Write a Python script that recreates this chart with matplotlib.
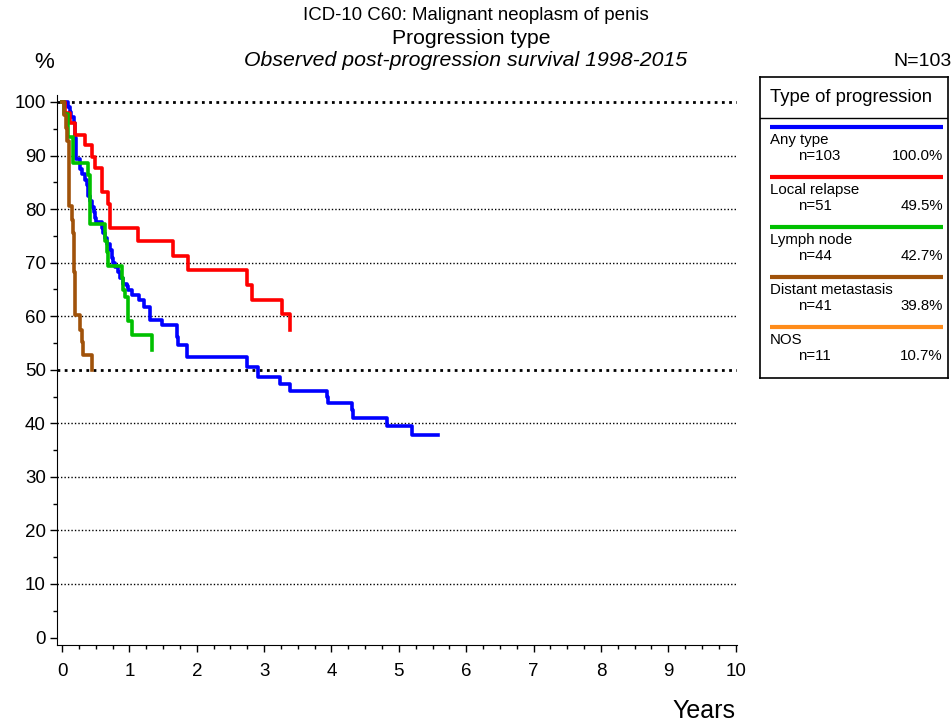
import numpy as np
import matplotlib
matplotlib.use("Agg")
import matplotlib.pyplot as plt
from matplotlib.ticker import MultipleLocator

plt.rcParams['font.family'] = ['Liberation Sans', 'DejaVu Sans']

# step curves: (time in years, survival % after the step)
any_t = [0, 0.09, 0.12, 0.14, 0.17, 0.19, 0.21, 0.27, 0.29, 0.34, 0.37, 0.39, 0.42, 0.44,
         0.47, 0.49, 0.51, 0.59, 0.613, 0.638, 0.663, 0.71, 0.737, 0.76, 0.786, 0.83, 0.861,
         0.91, 0.96, 0.984, 1.034, 1.14, 1.22, 1.306, 1.479, 1.70, 1.726, 1.86, 2.74, 2.91,
         3.234, 3.383, 3.927, 3.95, 4.30, 4.32, 4.82, 5.19, 5.58]
any_s = [100, 99.0, 98.1, 97.1, 96.1, 93.2, 89.3, 87.4, 86.5, 85.5, 84.5, 82.5, 81.5, 80.4,
         79.4, 78.4, 77.5, 76.5, 75.6, 74.6, 73.4, 72.3, 70.9, 70.0, 69.2, 68.2, 67.1,
         66.1, 65.6, 64.9, 64.0, 63.0, 61.8, 59.3, 58.3, 56.2, 54.6, 52.4, 50.6, 48.7,
         47.4, 46.1, 44.9, 43.7, 42.4, 40.9, 39.4, 37.8, 37.8]

local_t = [0, 0.05, 0.12, 0.19, 0.34, 0.44, 0.49, 0.60, 0.687, 0.712, 1.133, 1.652, 1.875,
           2.74, 2.814, 3.259, 3.383]
local_s = [100, 98.0, 96.0, 93.9, 91.9, 89.7, 87.6, 83.2, 80.9, 76.4, 74.1, 71.2, 68.7,
           65.8, 63.0, 60.4, 57.4]

lymph_t = [0, 0.03, 0.094, 0.168, 0.39, 0.415, 0.638, 0.663, 0.688, 0.885, 0.91, 0.935,
           0.984, 1.034, 1.335]
lymph_s = [100, 97.7, 93.5, 88.6, 86.4, 77.2, 74.1, 71.9, 69.3, 67.1, 64.8, 63.5,
           59.1, 56.5, 53.7]

dist_t = [0, 0.03, 0.06, 0.08, 0.10, 0.11, 0.15, 0.165, 0.175, 0.19, 0.267, 0.292, 0.317, 0.44]
dist_s = [100, 97.6, 95.1, 92.7, 87.8, 80.5, 78.0, 75.6, 68.3, 60.2, 57.4, 55.2, 52.7, 50.0]

groups = ['Any type', 'Local relapse', 'Lymph node', 'Distant metastasis', 'NOS']
group_n = [103, 51, 44, 41, 11]
group_pct = ['100.0%', '49.5%', '42.7%', '39.8%', '10.7%']
colors = ['#0000ff', '#ff0000', '#00c000', '#a0520a', '#ff8c1a']

W, H = 953, 726
fig = plt.figure(figsize=(W / 100, H / 100), dpi=100)
ax = fig.add_axes([57 / W, 1 - 645 / H, (737 - 57) / W, (645 - 95) / H])

for y in range(10, 101, 10):
    if y in (50, 100):
        ax.axhline(y, color='black', lw=2.0, ls=(0, (1, 1.6)), zorder=1)
    else:
        ax.axhline(y, color='black', lw=1.0, ls=(0, (1, 1.5)), zorder=1)

curves = [(any_t, any_s), (local_t, local_s), (lymph_t, lymph_s), (dist_t, dist_s)]
for (t, s), c in zip(curves, colors):
    ax.step(t, s, where='post', color=c, lw=2.6, zorder=3)

ax.set_xlim(-0.075, 10.02)
ax.set_ylim(-1.4, 101.3)
ax.xaxis.set_major_locator(MultipleLocator(1))
ax.xaxis.set_minor_locator(MultipleLocator(0.25))
ax.yaxis.set_major_locator(MultipleLocator(10))
ax.yaxis.set_minor_locator(MultipleLocator(5))
ax.spines['top'].set_visible(False)
ax.spines['right'].set_visible(False)
ax.tick_params(axis='x', which='major', length=5, width=1, labelsize=13.5, pad=8)
ax.tick_params(axis='x', which='minor', length=3, width=1)
ax.tick_params(axis='y', which='major', length=5, width=1, labelsize=13.5, pad=3)
ax.tick_params(axis='y', which='minor', length=3, width=1)

fig.text(735 / W, 1 - 711 / H, 'Years', ha='right', va='center', fontsize=18)
fig.text(44 / W, 1 - 63 / H, '%', ha='center', va='center', fontsize=16)
fig.text(476 / W, 1 - 15 / H, 'ICD-10 C60: Malignant neoplasm of penis', ha='center', va='center', fontsize=13.4)
fig.text(471 / W, 1 - 38 / H, 'Progression type', ha='center', va='center', fontsize=15.2)
fig.text(466 / W, 1 - 61 / H, 'Observed post-progression survival 1998-2015', ha='center', va='center',
         fontsize=15.3, style='italic')
fig.text(952 / W, 1 - 61 / H, 'N=103', ha='right', va='center', fontsize=14)

# legend box, drawn in pixel units
lx0, ly0, lx1, ly1 = 760, 77, 948, 378
lg = fig.add_axes([lx0 / W, 1 - ly1 / H, (lx1 - lx0) / W, (ly1 - ly0) / H])
lg.set_xlim(0, lx1 - lx0)
lg.set_ylim(ly1 - ly0, 0)
lg.set_xticks([])
lg.set_yticks([])
for sp in lg.spines.values():
    sp.set_linewidth(1.2)
lg.text(10, 20, 'Type of progression', ha='left', va='center', fontsize=13.3)
lg.axhline(41, color='black', lw=1)
for i, (name, n, pct, c) in enumerate(zip(groups, group_n, group_pct, colors)):
    y0 = 49.5 + 50 * i
    lg.plot([10, 183], [y0, y0], color=c, lw=3, solid_capstyle='butt')
    lg.text(10, y0 + 13.5, name, ha='left', va='center', fontsize=10.8)
    lg.text(38, y0 + 29, 'n=%d' % n, ha='left', va='center', fontsize=10.8)
    lg.text(183, y0 + 29, pct, ha='right', va='center', fontsize=10.8)

fig.savefig('out.png', dpi=100)
